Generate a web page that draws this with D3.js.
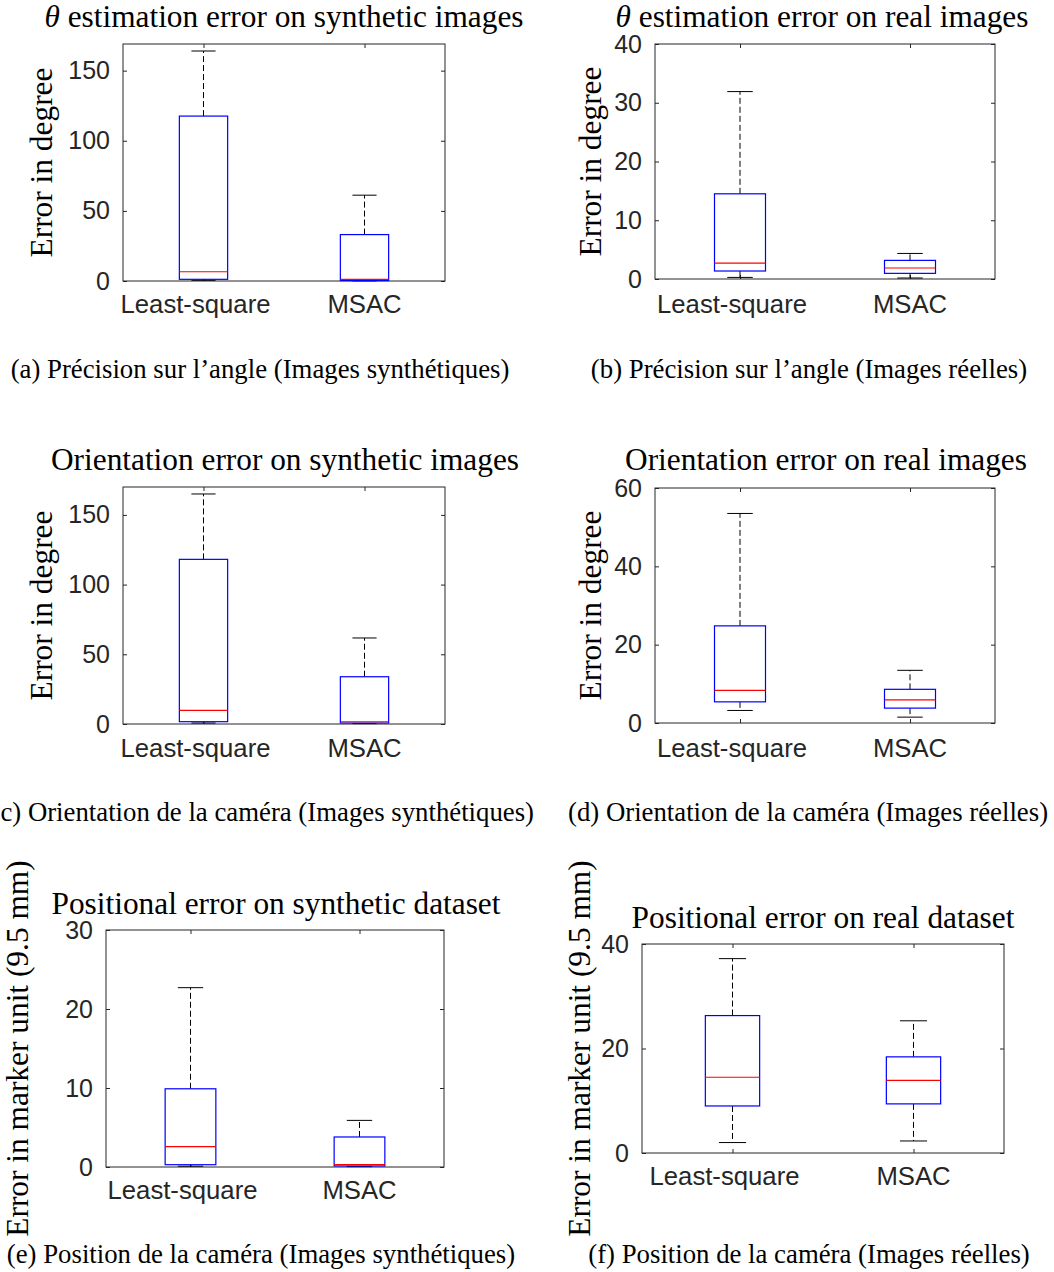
<!DOCTYPE html>
<html><head><meta charset="utf-8">
<script src="https://cdn.jsdelivr.net/npm/d3@7"></script>
<style>body{margin:0;background:#fff}svg{display:block}</style>
</head><body>
<svg id="c" width="1054" height="1272"></svg>
<script>
// ---------- data ----------
const categories = ["Least-square", "MSAC"];
const titles = [
  ["θ", " estimation error on synthetic images"],
  ["θ", " estimation error on real images"],
  ["", "Orientation error on synthetic images"],
  ["", "Orientation error on real images"],
  ["", "Positional error on synthetic dataset"],
  ["", "Positional error on real dataset"]
];
const captions = [
  "(a) Précision sur l’angle (Images synthétiques)",
  "(b) Précision sur l’angle (Images réelles)",
  "(c) Orientation de la caméra (Images synthétiques)",
  "(d) Orientation de la caméra (Images réelles)",
  "(e) Position de la caméra (Images synthétiques)",
  "(f) Position de la caméra (Images réelles)"
];
const yLabels = ["Error in degree", "Error in degree", "Error in degree", "Error in degree",
  "Error in marker unit (9.5 mm)", "Error in marker unit (9.5 mm)"];
const yMax = [169, 40, 170, 60, 30, 40];
const yTicks = [[0, 50, 100, 150], [0, 10, 20, 30, 40], [0, 50, 100, 150], [0, 20, 40, 60], [0, 10, 20, 30], [0, 20, 40]];
// per panel: [Least-square, MSAC]
const lowerWhisker = [[0.5, 0.1], [0.27, 0.17], [0.7, 0.3], [3.2, 1.5], [0.1, 0.05], [2.0, 2.3]];
const q1 = [[1.2, 0.3], [1.36, 0.96], [1.65, 0.7], [5.4, 3.8], [0.29, 0.13], [9.0, 9.4]];
const medians = [[6.6, 1.2], [2.7, 1.87], [9.8, 1.6], [8.35, 5.9], [2.57, 0.29], [14.5, 13.9]];
const q3 = [[117.6, 33.1], [14.5, 3.17], [118.1, 33.9], [24.8, 8.6], [9.9, 3.8], [26.3, 18.4]];
const upperWhisker = [[164, 61.2], [31.9, 4.35], [165, 61.7], [53.5, 13.45], [22.7, 5.9], [37.2, 25.3]];

// ---------- layout ----------
const layout = [
  {x0:123, x1:445, y0:44,  y1:281,  tx:284, ty:27,  cx:260, ca:"middle", cy:378,  lx:52,  xl:313},
  {x0:655, x1:995, y0:44,  y1:279,  tx:822, ty:27,  cx:809, ca:"middle", cy:378,  lx:601, xl:313},
  {x0:123, x1:445, y0:487, y1:724,  tx:285, ty:470, cx:534, ca:"end",    cy:821,  lx:52,  xl:757},
  {x0:655, x1:995, y0:488, y1:723,  tx:826, ty:470, cx:568, ca:"start",  cy:821,  lx:601, xl:757},
  {x0:106, x1:444, y0:930, y1:1167, tx:276, ty:914, cx:261, ca:"middle", cy:1263, lx:28,  xl:1199},
  {x0:642, x1:1004,y0:944, y1:1153, tx:823, ty:928, cx:809, ca:"middle", cy:1263, lx:590, xl:1185}
];
const catLabelShift = [-8, 0];

const svg = d3.select("#c");
const SERIF = "'Liberation Serif','DejaVu Serif',serif";
const SANS = "'Liberation Sans',Arial,sans-serif";
const AX = "#262626";

function fitSize(str, target, family) {
  const t = svg.append("text").attr("font-family", family).attr("font-size", 20).text(str);
  const w = t.node().getComputedTextLength();
  t.remove();
  return 20 * target / w;
}
const titleSize = fitSize("θ estimation error on synthetic images", 479, SERIF);
const capSize = fitSize(captions[0], 499, SERIF);
const ylabSize = fitSize("Error in degree", 190, SERIF);
const catSize = fitSize("Least-square", 150, SANS);

layout.forEach((L, i) => {
  const g = svg.append("g");
  const x = d3.scaleLinear().domain([0.5, 2.5]).range([L.x0, L.x1]);
  const y = d3.scaleLinear().domain([0, yMax[i]]).range([L.y1, L.y0]);
  const idx = categories.map((c, k) => k + 1);

  const left = g.append("g").attr("transform", `translate(${L.x0},0)`)
    .call(d3.axisLeft(y).tickValues(yTicks[i]).tickSizeInner(-4).tickSizeOuter(0).tickPadding(13).tickFormat(d3.format("d")));
  const right = g.append("g").attr("transform", `translate(${L.x1},0)`)
    .call(d3.axisRight(y).tickValues(yTicks[i]).tickSizeInner(-4).tickSizeOuter(0).tickFormat(""));
  const bottom = g.append("g").attr("transform", `translate(0,${L.y1})`)
    .call(d3.axisBottom(x).tickValues(idx).tickSizeInner(-4).tickSizeOuter(0).tickFormat(""));
  const top = g.append("g").attr("transform", `translate(0,${L.y0})`)
    .call(d3.axisTop(x).tickValues(idx).tickSizeInner(-4).tickSizeOuter(0).tickFormat(""));
  [left, right, bottom, top].forEach(a => {
    a.select(".domain").remove();
    a.selectAll("line").attr("stroke", AX);
  });
  left.selectAll("text").attr("font-family", SANS).attr("font-size", 25).attr("fill", AX);

  g.selectAll(".cat").data(categories).enter().append("text")
    .attr("x", (d, k) => x(k + 1) + catLabelShift[k]).attr("y", L.xl)
    .attr("text-anchor", "middle").attr("font-family", SANS).attr("font-size", catSize).attr("fill", AX)
    .text(d => d);

  g.append("rect").attr("x", L.x0).attr("y", L.y0).attr("width", L.x1 - L.x0).attr("height", L.y1 - L.y0)
    .attr("fill", "none").attr("stroke", AX).attr("stroke-width", 1);

  const bw = 0.3, cw = 0.15;
  categories.forEach((c, k) => {
    const p = k + 1;
    const bg = g.append("g");
    bg.append("line").attr("x1", x(p)).attr("x2", x(p)).attr("y1", y(q3[i][k])).attr("y2", y(upperWhisker[i][k]))
      .attr("stroke", "#000").attr("stroke-dasharray", "6,3");
    bg.append("line").attr("x1", x(p)).attr("x2", x(p)).attr("y1", y(q1[i][k])).attr("y2", y(lowerWhisker[i][k]))
      .attr("stroke", "#000").attr("stroke-dasharray", "6,3");
    [upperWhisker[i][k], lowerWhisker[i][k]].forEach(v => {
      bg.append("line").attr("x1", x(p - cw / 2)).attr("x2", x(p + cw / 2)).attr("y1", y(v)).attr("y2", y(v))
        .attr("stroke", "#000");
    });
    bg.append("rect").attr("x", x(p - bw / 2)).attr("width", x(p + bw / 2) - x(p - bw / 2))
      .attr("y", y(q3[i][k])).attr("height", y(q1[i][k]) - y(q3[i][k]))
      .attr("fill", "#fff").attr("stroke", "#0000ff").attr("stroke-width", 1.2);
    bg.append("line").attr("x1", x(p - bw / 2)).attr("x2", x(p + bw / 2)).attr("y1", y(medians[i][k])).attr("y2", y(medians[i][k]))
      .attr("stroke", "#ff0000").attr("stroke-width", 1.2);
  });

  const t = svg.append("text").attr("x", L.tx).attr("y", L.ty).attr("text-anchor", "middle")
    .attr("font-family", SERIF).attr("font-size", titleSize).attr("fill", "#000");
  if (titles[i][0]) t.append("tspan").attr("font-style", "italic").text(titles[i][0]);
  t.append("tspan").text(titles[i][1]);

  svg.append("text").attr("transform", `translate(${L.lx},${(L.y0 + L.y1) / 2}) rotate(-90)`)
    .attr("text-anchor", "middle").attr("font-family", SERIF).attr("font-size", ylabSize).attr("fill", "#000")
    .text(yLabels[i]);

  svg.append("text").attr("x", L.cx).attr("y", L.cy).attr("text-anchor", L.ca)
    .attr("font-family", SERIF).attr("font-size", capSize).attr("fill", "#000")
    .text(captions[i]);
});
</script>
</body></html>
